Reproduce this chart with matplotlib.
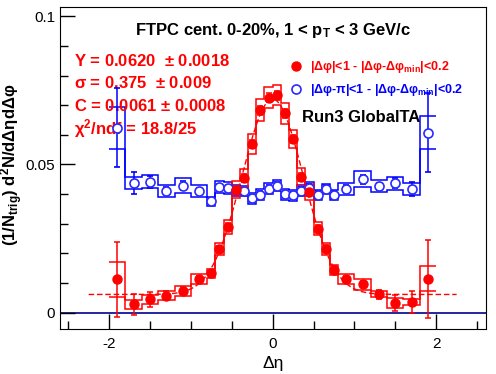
import numpy as np
import matplotlib
matplotlib.use('Agg')
import matplotlib.pyplot as plt
from matplotlib.ticker import MultipleLocator
from matplotlib.lines import Line2D

plt.rcParams['font.family'] = ['Liberation Sans', 'DejaVu Sans']
plt.rcParams['mathtext.default'] = 'regular'
plt.rcParams['axes.unicode_minus'] = False

# bin edges in delta eta (wide bins on the outside, 0.1 wide in the middle)
eta_edges = [-2.0, -1.8, -1.6, -1.4, -1.2, -1.0, -0.8, -0.7, -0.6, -0.5, -0.4, -0.3,
             -0.2, -0.1, 0.0, 0.1, 0.2, 0.3, 0.4, 0.5, 0.6, 0.7, 0.8, 1.0, 1.2,
             1.4, 1.6, 1.8, 2.0]

# near side |dphi|<1
red_y = [0.0112, 0.0028, 0.0044, 0.0056, 0.0073, 0.0112, 0.0132, 0.0214, 0.0290, 0.0415,
         0.0455, 0.0570, 0.0683, 0.0725, 0.0734, 0.0672, 0.0585, 0.0458, 0.0406, 0.0283,
         0.0215, 0.0145, 0.0113, 0.0095, 0.0062, 0.0032, 0.0036, 0.0114]
red_err = [0.0127, 0.0036, 0.0025, 0.0015, 0.0012, 0.0010, 0.0012, 0.0012, 0.0012, 0.0012,
           0.0013, 0.0014, 0.0015, 0.0015, 0.0015, 0.0015, 0.0014, 0.0013, 0.0012, 0.0012,
           0.0012, 0.0012, 0.0010, 0.0010, 0.0015, 0.0028, 0.0036, 0.0131]
red_sys = [0.0058, 0.0015, 0.0015, 0.0015, 0.0018, 0.0017, 0.0015, 0.0020, 0.0024, 0.0028,
           0.0030, 0.0034, 0.0038, 0.0036, 0.0034, 0.0036, 0.0031, 0.0030, 0.0027, 0.0022,
           0.0020, 0.0017, 0.0016, 0.0019, 0.0010, 0.0016, 0.0009, 0.0042]

# away side |dphi-pi|<1
blue_y = [0.0624, 0.0437, 0.0441, 0.0411, 0.0428, 0.0411, 0.0375, 0.0423, 0.0420, 0.0413,
          0.0410, 0.0386, 0.0398, 0.0418, 0.0428, 0.0399, 0.0396, 0.0411, 0.0422, 0.0397,
          0.0417, 0.0397, 0.0417, 0.0450, 0.0426, 0.0437, 0.0417, 0.0607]
blue_err = [0.0134, 0.0036, 0.0020, 0.0012, 0.0015, 0.0010, 0.0010, 0.0012, 0.0012, 0.0012,
            0.0012, 0.0012, 0.0012, 0.0012, 0.0012, 0.0012, 0.0012, 0.0012, 0.0012, 0.0012,
            0.0012, 0.0012, 0.0012, 0.0015, 0.0012, 0.0018, 0.0025, 0.0133]
blue_sys = [0.0071, 0.0021, 0.0022, 0.0020, 0.0025, 0.0020, 0.0016, 0.0020, 0.0020, 0.0018,
            0.0018, 0.0018, 0.0018, 0.0018, 0.0018, 0.0018, 0.0018, 0.0018, 0.0018, 0.0018,
            0.0018, 0.0018, 0.0020, 0.0027, 0.0020, 0.0022, 0.0020, 0.0055]

red_label = r'|Δφ|<1 - |Δφ-Δφ$_{min}$|<0.2'
blue_label = r'|Δφ-π|<1 - |Δφ-Δφ$_{min}$|<0.2'

# gaussian + constant fit to the near side
fit_Y, fit_sigma, fit_C = 0.0620, 0.375, 0.0061
fit_range = (-2.25, 2.25)

edges = np.array(eta_edges)
x = 0.5 * (edges[:-1] + edges[1:])
red_y, red_err, red_sys = map(np.array, (red_y, red_err, red_sys))
blue_y, blue_err, blue_sys = map(np.array, (blue_y, blue_err, blue_sys))

fig = plt.figure(figsize=(4.96, 3.74), dpi=100)
ax = fig.add_axes([0.121, 0.120, 0.859, 0.861])

ax.axhline(0, color='#000090', lw=1.2, zorder=1)

# systematic bands as upper/lower step outlines
for y, s, c in [(blue_y, blue_sys, 'blue'), (red_y, red_sys, 'red')]:
    ax.stairs(y + s, edges, baseline=None, color=c, lw=1.1, zorder=2)
    ax.stairs(y - s, edges, baseline=None, color=c, lw=1.1, zorder=2)

# fit curve
xf = np.linspace(fit_range[0], fit_range[1], 400)
yf = fit_C + fit_Y / (np.sqrt(2 * np.pi) * fit_sigma) * np.exp(-xf**2 / (2 * fit_sigma**2))
ax.plot(xf, yf, color='red', lw=1.0, ls=(0, (4, 2)), zorder=3)

ax.errorbar(x, blue_y, yerr=blue_err, fmt='o', ms=6.5, mfc='white', mec='#2a2aff',
            mew=1.2, color='blue', ecolor='blue', elinewidth=1.1, capsize=2.5,
            capthick=1.1, zorder=4)
ax.errorbar(x, red_y, yerr=red_err, fmt='o', ms=6.5, mfc='red', mec='red',
            color='red', ecolor='red', elinewidth=1.1, capsize=2.5, capthick=1.1,
            zorder=5)

ax.set_xlim(-2.6, 2.61)
ax.set_ylim(-0.0056, 0.1031)

ax.xaxis.set_minor_locator(MultipleLocator(0.5))
ax.yaxis.set_minor_locator(MultipleLocator(0.01))
ax.set_yticks([0, 0.05, 0.1])
ax.set_yticklabels(['0', '0.05', '0.1'])
ax.set_xticks([-2, 0, 2])
ax.tick_params(which='both', direction='in', top=False, right=False, labelsize=11)
ax.tick_params(which='major', length=11, width=1)
ax.tick_params(which='minor', length=6, width=1)
ax.tick_params(axis='x', pad=6)

ax.set_xlabel('Δη', fontsize=12.5, labelpad=3)
ax.set_ylabel(r'(1/N$_{trig}$) d$^{2}$N/dΔηdΔφ', fontsize=12, fontweight='bold')
ax.yaxis.set_label_coords(-0.082, 0.51)

handles = [Line2D([], [], ls='none', marker='o', ms=6.5, mfc='red', mec='red'),
           Line2D([], [], ls='none', marker='o', ms=6.5, mfc='white', mec='#2a2aff',
                  mew=1.2)]
leg = ax.legend(handles, [red_label, blue_label], loc='upper left',
                bbox_to_anchor=(0.527, 0.857), frameon=False,
                prop={'weight': 'bold', 'size': 9}, handlelength=0.9,
                handletextpad=0.6, labelspacing=0.55, borderpad=0,
                labelcolor=['red', 'blue'])

ax.text(0.5, 0.927, r'FTPC cent. 0-20%, 1 < p$_{T}$ < 3 GeV/c', transform=ax.transAxes,
        ha='center', va='center', fontsize=12, fontweight='bold')
fit_lines = [r'Y = 0.0620  $\pm$ 0.0018', r'σ = 0.375  $\pm$ 0.009',
             r'C = 0.0061 $\pm$ 0.0008', r'χ$^{2}$/ndf = 18.8/25']
for i, t in enumerate(fit_lines):
    ax.text(0.033, 0.834 - i * 0.0705, t, transform=ax.transAxes, ha='left',
            va='center', fontsize=12, fontweight='bold', color='red')
ax.text(0.567, 0.658, 'Run3 GlobalTA', transform=ax.transAxes, ha='left',
        va='center', fontsize=12, fontweight='bold')

fig.savefig('out.png', dpi=100)
